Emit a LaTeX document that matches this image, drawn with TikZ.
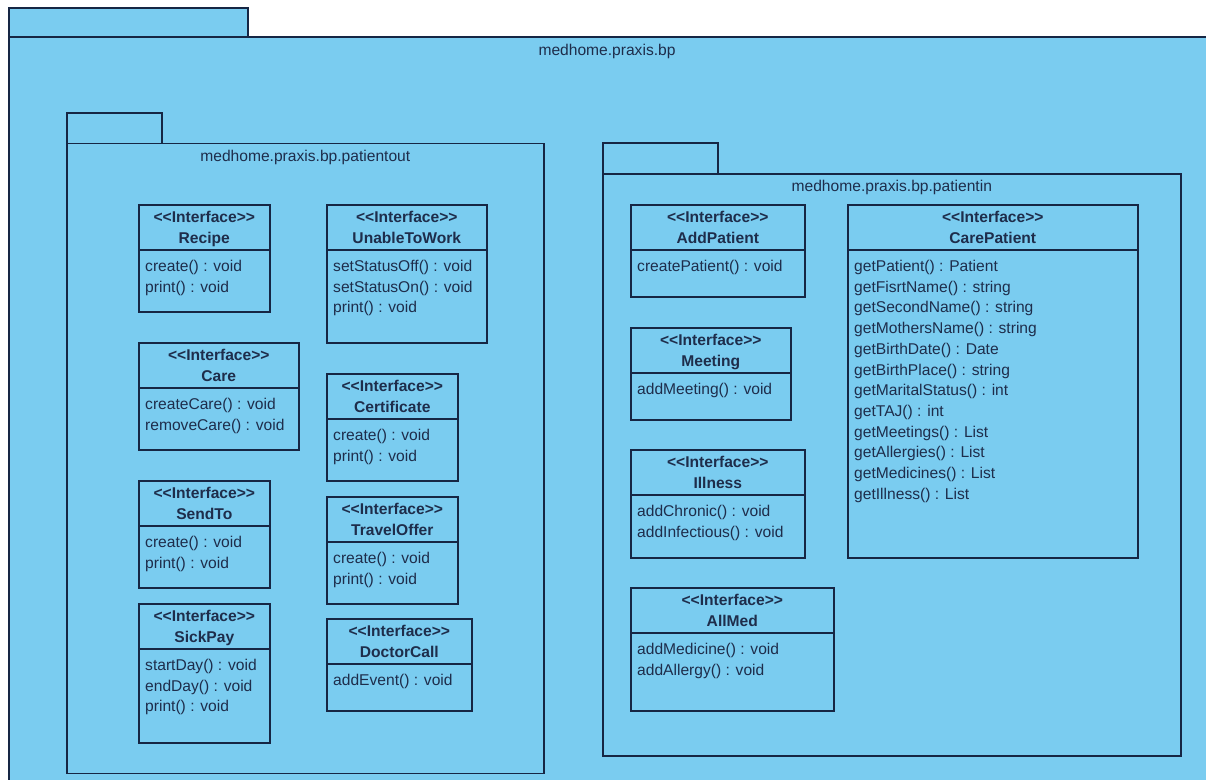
\documentclass[tikz,border=0pt]{standalone}
\usepackage{fontspec}
\newfontfamily\umlfont{Liberation Sans}
\newcommand{\umlsize}{\fontsize{15.6pt}{20.7pt}\selectfont}
\definecolor{umlfill}{RGB}{122,204,240}
\definecolor{umlline}{RGB}{22,38,68}
\definecolor{umltext}{RGB}{30,45,75}
\begin{document}
\begin{tikzpicture}[x=1pt,y=-1pt,font=\umlfont\umlsize]
    \tikzstyle{pkg}=[rectangle,draw=umlline,fill=umlfill,line width=1.6pt,anchor=north west,inner sep=0pt];
    \tikzstyle{iface}=[rectangle,draw=umlline,fill=umlfill,line width=1.6pt,anchor=north west,inner sep=0pt];
    \tikzstyle{divider}=[draw=umlline,line width=1.6pt];
    \tikzstyle{stereo}=[font=\umlfont\umlsize\bfseries,text=umltext,anchor=base,inner sep=0pt];
    \tikzstyle{ops}=[text=umltext,anchor=north west,align=left,inner sep=0pt];
    \tikzstyle{pkglabel}=[text=umltext,anchor=base,inner sep=0pt];

    \useasboundingbox (0,0) rectangle (1206,779);
    \clip (0,0) rectangle (1206,779);
    \fill[white] (0,0) rectangle (1206,779);

    % packages
    \node[pkg,minimum width=239pt,minimum height=29pt] (bptab) at (8,7) {};
    \node[pkg,minimum width=1210pt,minimum height=760pt] (bp) at (8,36) {};
    \node[pkglabel] (bplabel) at ([yshift=-19pt]bp.north -| 607,0) {medhome.praxis.bp};

    \node[pkg,minimum width=95pt,minimum height=31pt] (outtab) at (66,112) {};
    \node[pkg,minimum width=477pt,minimum height=630pt] (out) at (66,142.5) {};
    \node[pkglabel] (outlabel) at ([yshift=-18.5pt]out.north) {medhome.praxis.bp.patientout};

    \node[pkg,minimum width=115pt,minimum height=31pt] (intab) at (602,142) {};
    \node[pkg,minimum width=578pt,minimum height=582pt] (in) at (602,173) {};
    \node[pkglabel] (inlabel) at ([yshift=-18.5pt]in.north) {medhome.praxis.bp.patientin};

    % patientout
    \node[iface,minimum width=131pt,minimum height=107pt] (recipe) at (138,204) {};
    \node[stereo] at ([yshift=-18pt]recipe.north) {<<Interface>>};
    \node[stereo] at ([yshift=-39.5pt]recipe.north) {Recipe};
    \draw[divider] ([yshift=-46pt]recipe.north west) -- ([yshift=-46pt]recipe.north east);
    \node[ops] at ([xshift=7pt,yshift=-56pt]recipe.north west) {create() : void\\print() : void};

    \node[iface,minimum width=160pt,minimum height=138pt] (unable) at (326,204) {};
    \node[stereo] at ([yshift=-18pt]unable.north) {<<Interface>>};
    \node[stereo] at ([yshift=-39.5pt]unable.north) {UnableToWork};
    \draw[divider] ([yshift=-46pt]unable.north west) -- ([yshift=-46pt]unable.north east);
    \node[ops] at ([xshift=7pt,yshift=-56pt]unable.north west) {setStatusOff() : void\\setStatusOn() : void\\print() : void};

    \node[iface,minimum width=160pt,minimum height=107pt] (care) at (138,342) {};
    \node[stereo] at ([yshift=-18pt]care.north) {<<Interface>>};
    \node[stereo] at ([yshift=-39.5pt]care.north) {Care};
    \draw[divider] ([yshift=-46pt]care.north west) -- ([yshift=-46pt]care.north east);
    \node[ops] at ([xshift=7pt,yshift=-56pt]care.north west) {createCare() : void\\removeCare() : void};

    \node[iface,minimum width=131pt,minimum height=107pt] (certificate) at (326,373) {};
    \node[stereo] at ([yshift=-18pt]certificate.north) {<<Interface>>};
    \node[stereo] at ([yshift=-39.5pt]certificate.north) {Certificate};
    \draw[divider] ([yshift=-46pt]certificate.north west) -- ([yshift=-46pt]certificate.north east);
    \node[ops] at ([xshift=7pt,yshift=-56pt]certificate.north west) {create() : void\\print() : void};

    \node[iface,minimum width=131pt,minimum height=107pt] (sendto) at (138,480) {};
    \node[stereo] at ([yshift=-18pt]sendto.north) {<<Interface>>};
    \node[stereo] at ([yshift=-39.5pt]sendto.north) {SendTo};
    \draw[divider] ([yshift=-46pt]sendto.north west) -- ([yshift=-46pt]sendto.north east);
    \node[ops] at ([xshift=7pt,yshift=-56pt]sendto.north west) {create() : void\\print() : void};

    \node[iface,minimum width=131pt,minimum height=107pt] (traveloffer) at (326,496) {};
    \node[stereo] at ([yshift=-18pt]traveloffer.north) {<<Interface>>};
    \node[stereo] at ([yshift=-39.5pt]traveloffer.north) {TravelOffer};
    \draw[divider] ([yshift=-46pt]traveloffer.north west) -- ([yshift=-46pt]traveloffer.north east);
    \node[ops] at ([xshift=7pt,yshift=-56pt]traveloffer.north west) {create() : void\\print() : void};

    \node[iface,minimum width=131pt,minimum height=139pt] (sickpay) at (138,603) {};
    \node[stereo] at ([yshift=-18pt]sickpay.north) {<<Interface>>};
    \node[stereo] at ([yshift=-39.5pt]sickpay.north) {SickPay};
    \draw[divider] ([yshift=-46pt]sickpay.north west) -- ([yshift=-46pt]sickpay.north east);
    \node[ops] at ([xshift=7pt,yshift=-56pt]sickpay.north west) {startDay() : void\\endDay() : void\\print() : void};

    \node[iface,minimum width=145pt,minimum height=92pt] (doctorcall) at (326,618) {};
    \node[stereo] at ([yshift=-18pt]doctorcall.north) {<<Interface>>};
    \node[stereo] at ([yshift=-39.5pt]doctorcall.north) {DoctorCall};
    \draw[divider] ([yshift=-46pt]doctorcall.north west) -- ([yshift=-46pt]doctorcall.north east);
    \node[ops] at ([xshift=7pt,yshift=-56pt]doctorcall.north west) {addEvent() : void};

    % patientin
    \node[iface,minimum width=174pt,minimum height=92pt] (addpatient) at (630,204) {};
    \node[stereo] at ([yshift=-18pt]addpatient.north) {<<Interface>>};
    \node[stereo] at ([yshift=-39.5pt]addpatient.north) {AddPatient};
    \draw[divider] ([yshift=-46pt]addpatient.north west) -- ([yshift=-46pt]addpatient.north east);
    \node[ops] at ([xshift=7pt,yshift=-56pt]addpatient.north west) {createPatient() : void};

    \node[iface,minimum width=160pt,minimum height=92pt] (meeting) at (630,327) {};
    \node[stereo] at ([yshift=-18pt]meeting.north) {<<Interface>>};
    \node[stereo] at ([yshift=-39.5pt]meeting.north) {Meeting};
    \draw[divider] ([yshift=-46pt]meeting.north west) -- ([yshift=-46pt]meeting.north east);
    \node[ops] at ([xshift=7pt,yshift=-56pt]meeting.north west) {addMeeting() : void};

    \node[iface,minimum width=174pt,minimum height=108pt] (illness) at (630,449) {};
    \node[stereo] at ([yshift=-18pt]illness.north) {<<Interface>>};
    \node[stereo] at ([yshift=-39.5pt]illness.north) {Illness};
    \draw[divider] ([yshift=-46pt]illness.north west) -- ([yshift=-46pt]illness.north east);
    \node[ops] at ([xshift=7pt,yshift=-56pt]illness.north west) {addChronic() : void\\addInfectious() : void};

    \node[iface,minimum width=203pt,minimum height=123pt] (allmed) at (630,587) {};
    \node[stereo] at ([yshift=-18pt]allmed.north) {<<Interface>>};
    \node[stereo] at ([yshift=-39.5pt]allmed.north) {AllMed};
    \draw[divider] ([yshift=-46pt]allmed.north west) -- ([yshift=-46pt]allmed.north east);
    \node[ops] at ([xshift=7pt,yshift=-56pt]allmed.north west) {addMedicine() : void\\addAllergy() : void};

    \node[iface,minimum width=290pt,minimum height=353pt] (carepatient) at (847,204) {};
    \node[stereo] at ([yshift=-18pt]carepatient.north) {<<Interface>>};
    \node[stereo] at ([yshift=-39.5pt]carepatient.north) {CarePatient};
    \draw[divider] ([yshift=-46pt]carepatient.north west) -- ([yshift=-46pt]carepatient.north east);
    \node[ops] at ([xshift=7pt,yshift=-56pt]carepatient.north west) {getPatient() : Patient\\getFisrtName() : string\\getSecondName() : string\\getMothersName() : string\\getBirthDate() : Date\\getBirthPlace() : string\\getMaritalStatus() : int\\getTAJ() : int\\getMeetings() : List\\getAllergies() : List\\getMedicines() : List\\getIllness() : List};
\end{tikzpicture}
\end{document}
